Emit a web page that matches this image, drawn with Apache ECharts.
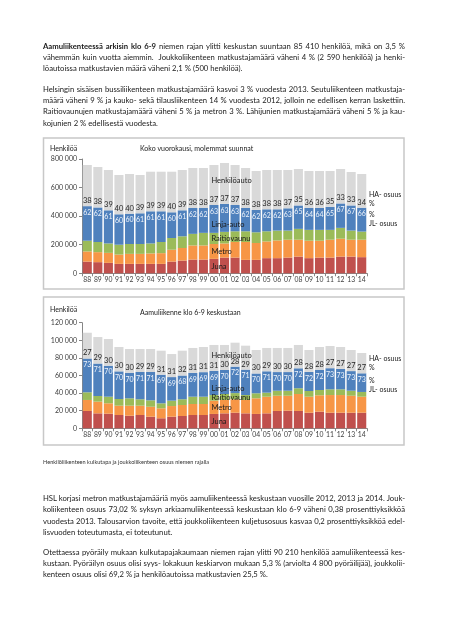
<!DOCTYPE html>
<html><head><meta charset="utf-8">
<script src="https://cdn.jsdelivr.net/npm/echarts@6/dist/echarts.min.js"></script>
<style>
html,body{margin:0;padding:0;background:#fff;}
#page{position:relative;width:452px;height:640px;overflow:hidden;}
#chart{position:absolute;left:0;top:0;width:452px;height:640px;}
.ln{position:absolute;left:43px;width:362px;font-family:Lato,'Liberation Sans',sans-serif;font-size:7.7px;line-height:11px;height:11px;color:#1a1a1a;white-space:nowrap;text-align:justify;text-align-last:justify;z-index:5;}
.ln.last{text-align-last:left;}
.cap{position:absolute;left:43px;font-family:Lato,'Liberation Sans',sans-serif;font-size:5.6px;line-height:8px;color:#333;white-space:nowrap;z-index:5;}
</style>
</head><body>
<div id="page">
<div id="chart"></div>
<div class="ln" style="top:41px"><b>Aamuliikenteessä arkisin klo 6-9</b> niemen rajan ylitti keskustan suuntaan 85 410 henkilöä, mikä on 3,5 %</div>
<div class="ln" style="top:52px">vähemmän kuin vuotta aiemmin.&nbsp; Joukkoliikenteen matkustajamäärä väheni 4 % (2 590 henkilöä) ja henki-</div>
<div class="ln last" style="top:63px">löautoissa matkustavien määrä väheni 2,1 % (500 henkilöä).</div>
<div class="ln" style="top:84px">Helsingin sisäisen bussiliikenteen matkustajamäärä kasvoi 3 % vuodesta 2013. Seutuliikenteen matkustaja-</div>
<div class="ln" style="top:95px">määrä väheni 9 % ja kauko- sekä tilausliikenteen 14 % vuodesta 2012, jolloin ne edellisen kerran laskettiin.</div>
<div class="ln" style="top:106px">Raitiovaunujen matkustajamäärä väheni 5 % ja metron 3 %. Lähijunien matkustajamäärä väheni 5 % ja kau-</div>
<div class="ln last" style="top:118px">kojunien 2 % edellisestä vuodesta.</div>
<div class="cap" style="top:458px">Henkilöliikenteen kulkutapa ja joukkoliikenteen osuus niemen rajalla</div>
<div class="ln" style="top:493px">HSL korjasi metron matkustajamääriä myös aamuliikenteessä keskustaan vuosille 2012, 2013 ja 2014. Jouk-</div>
<div class="ln" style="top:504px">koliikenteen osuus 73,02 % syksyn arkiaamuliikenteessä keskustaan klo 6-9 väheni 0,38 prosenttiyksikköä</div>
<div class="ln" style="top:516px">vuodesta 2013. Talousarvion tavoite, että joukkoliikenteen kuljetusosuus kasvaa 0,2 prosenttiyksikköä edel-</div>
<div class="ln last" style="top:527px">lisvuoden toteutumasta, ei toteutunut.</div>
<div class="ln" style="top:547px">Otettaessa pyöräily mukaan kulkutapajakaumaan niemen rajan ylitti 90 210 henkilöä aamuliikenteessä kes-</div>
<div class="ln" style="top:558px">kustaan. Pyöräilyn osuus olisi syys- lokakuun keskiarvon mukaan 5,3 % (arviolta 4 800 pyöräilijää), joukkolii-</div>
<div class="ln last" style="top:569px">kenteen osuus olisi 69,2 % ja henkilöautoissa matkustavien 25,5 %.</div>
</div>
<script>
// shrink any text line that would not fit its box
document.querySelectorAll('.ln').forEach(el=>{
  let fs = 7.7;
  el.style.textAlignLast = 'left';
  while(el.scrollWidth > 362 && fs > 6){ fs -= 0.1; el.style.fontSize = fs.toFixed(2)+'px'; }
  el.style.textAlignLast = '';
});

// ---------- DATA ----------
const years = ['88','89','90','91','92','93','94','95','96','97','98','99','00','01','02','03','04','05','06','07','08','09','10','11','12','13','14'];

// Chart 1: Koko vuorokausi, molemmat suunnat (henkilöä)
const juna1   = [82000,78000,73000,66000,66000,66000,66000,66000,82000,89000,96000,96000,101000,110000,110000,94000,94000,106000,106000,110000,117000,106000,110000,110000,117000,117000,113000];
const metro1  = [71000,70000,70000,65000,70000,70000,73000,75000,83000,88000,99000,99000,104000,99000,109000,125000,118000,117000,124000,125000,118000,122000,118000,125000,125000,118000,122000];
const raitio1 = [75000,71000,66000,69000,69000,69000,70000,78000,82000,82000,81000,88000,78000,81000,75000,75000,75000,71000,69000,64000,76000,76000,76000,69000,76000,64000,57000];
const bussi1  = [242000,242000,232000,213000,212000,215000,225000,215000,180000,182000,181000,174000,195000,196000,184000,163000,157000,154000,149000,156000,164000,154000,154000,161000,171000,176000,167000];
const auto1   = [288000,283000,282000,275000,278000,268000,277000,277000,284000,282000,280000,280000,280000,286000,280000,280000,272000,275000,275000,268000,255000,258000,258000,251000,241000,234000,236000];
const ha1 = [38,38,39,40,40,39,39,39,40,39,38,38,37,37,37,38,38,38,38,37,35,36,36,35,33,33,34];
const jl1 = [62,62,61,60,60,61,61,61,60,61,62,62,63,63,63,62,62,62,62,63,65,64,64,65,67,67,66];

// Chart 2: Aamuliikenne klo 6-9 keskustaan (henkilöä)
const juna2   = [19700,17000,16600,15100,14300,15100,13200,11400,13200,14000,15100,15100,16300,17000,17700,17000,16300,17000,19700,20000,19700,17700,18900,17700,17700,17700,17700];
const metro2  = [12500,13300,11800,10600,11400,10600,11300,11300,12100,12500,12500,12500,15100,15200,15300,15200,17800,18900,17300,17000,19300,18200,18600,20100,20100,19300,18200];
const raitio2 = [8700,6400,7500,7600,8400,7300,7300,5700,6100,6500,8300,8300,6400,6800,7000,5600,5700,4600,5700,5700,6500,6500,6000,6500,6500,5700,5400];
const bussi2  = [38400,36900,35200,31400,29000,31000,32200,32500,26800,27000,27100,27900,27500,27300,30100,28900,22500,24300,21200,21200,22700,21700,23000,24000,23200,22300,21200];
const auto2   = [29300,30100,30400,27700,27000,26100,26100,27300,26200,28200,28300,28600,29400,28400,27200,27200,26700,26500,27400,27400,26500,24900,25900,25200,24900,24000,23100];
const ha2 = [27,29,30,30,30,29,29,31,31,32,31,31,31,30,28,29,30,29,30,30,28,28,28,27,27,27,27];
const jl2 = [73,71,70,70,70,71,71,69,69,68,69,69,69,70,72,71,70,71,70,70,72,72,72,73,73,73,73];

const seriesNames = ['Juna','Metro','Raitiovaunu','Linja-auto','Henkilöauto'];
const y1Ticks = {max:800000, interval:200000};
const y2Ticks = {max:120000, interval:20000};

// ---------- STYLE ----------
const FF = 'Lato, "Liberation Sans", sans-serif';
const colors = ['#c0504d','#f79646','#9bbb59','#4f81bd','#d9d9d9'];
const nameIdx = 12; // '00' column carries the series names

function fmt(v){ return String(v).replace(/\B(?=(\d{3})+(?!\d))/g,' '); }

function buildSeries(g, arrs, HA, JL){
  const out = [];
  let base = 0;
  arrs.forEach((arr,k)=>{
    const v = arr[nameIdx];
    const frac = k===3 ? 0.28 : (k===4 ? 0.6 : 0.5);
    const mid = base + v*frac;
    base += v;
    const s = {
      name: seriesNames[k], type:'bar', stack:'s'+g, xAxisIndex:g, yAxisIndex:g,
      data: arr, barCategoryGap:'14%', itemStyle:{color:colors[k]},
      silent:true, animation:false,
      markPoint:{
        symbol:'rect', symbolSize:1, silent:true, animation:false,
        itemStyle:{color:'rgba(0,0,0,0)'},
        label:{show:true, position:'right', distance:-3, formatter:seriesNames[k], color:'#1a1a1a', fontSize:7.5, fontFamily:FF},
        data:[{coord:[years[nameIdx], mid]}]
      }
    };
    if(k===3) s.label = {show:true, position:'insideTop', distance:3, formatter:p=>JL[p.dataIndex], color:'#eef3fa', fontSize:7, fontFamily:FF};
    if(k===4) s.label = {show:true, position:'insideBottom', distance:1.5, formatter:p=>HA[p.dataIndex], color:'#262626', fontSize:7.5, fontFamily:FF};
    out.push(s);
  });
  return out;
}

function xAxis(g){
  return {type:'category', gridIndex:g, data:years,
    axisLine:{lineStyle:{color:'#868686'}}, axisTick:{show:true, length:3, lineStyle:{color:'#868686'}},
    axisLabel:{color:'#404040', fontSize:6.8, fontFamily:FF, margin:3, interval:0}};
}
function yAxis(g, t){
  return {type:'value', gridIndex:g, min:0, max:t.max, interval:t.interval,
    axisLine:{show:true, lineStyle:{color:'#868686'}}, axisTick:{show:true, length:3, lineStyle:{color:'#868686'}},
    splitLine:{show:false},
    axisLabel:{color:'#404040', fontSize:7, fontFamily:FF, margin:5, formatter:v=>fmt(v)}};
}
function txt(x,y,text,size){
  return {type:'text', x:x, y:y, silent:true, style:{text:text, fill:'#1a1a1a', font:(size||7)+'px '+FF, verticalAlign:'middle', textVerticalAlign:'middle'}};
}

const chart = echarts.init(document.getElementById('chart'), null, {renderer:'canvas'});
chart.setOption({
  animation:false,
  backgroundColor:'#fff',
  grid:[
    {left:82, width:285, top:159, height:114.3},
    {left:82, width:285, top:322.7, height:105.6}
  ],
  xAxis:[xAxis(0), xAxis(1)],
  yAxis:[yAxis(0,y1Ticks), yAxis(1,y2Ticks)],
  series:[].concat(
    buildSeries(0,[juna1,metro1,raitio1,bussi1,auto1],ha1,jl1),
    buildSeries(1,[juna2,metro2,raitio2,bussi2,auto2],ha2,jl2)
  ),
  graphic:[
    {type:'rect', silent:true, shape:{x:43.5,y:138,width:360.5,height:151}, style:{fill:'none', stroke:'#c8c8c8', lineWidth:1.5}},
    {type:'rect', silent:true, shape:{x:43.5,y:297,width:360.5,height:148}, style:{fill:'none', stroke:'#c8c8c8', lineWidth:1.5}},
    txt(50,149,'Henkilöä'),
    txt(140,149,'Koko vuorokausi, molemmat suunnat'),
    txt(369,195,'HA- osuus'), txt(369,203.5,'%'), txt(369,214.5,'%'), txt(369,223.5,'JL- osuus'),
    txt(50,310,'Henkilöä'),
    txt(140,312.7,'Aamuliikenne klo 6-9 keskustaan'),
    txt(369,359,'HA- osuus'), txt(369,368,'%'), txt(369,380.5,'%'), txt(369,389.5,'JL- osuus')
  ]
});
</script>
</body></html>
